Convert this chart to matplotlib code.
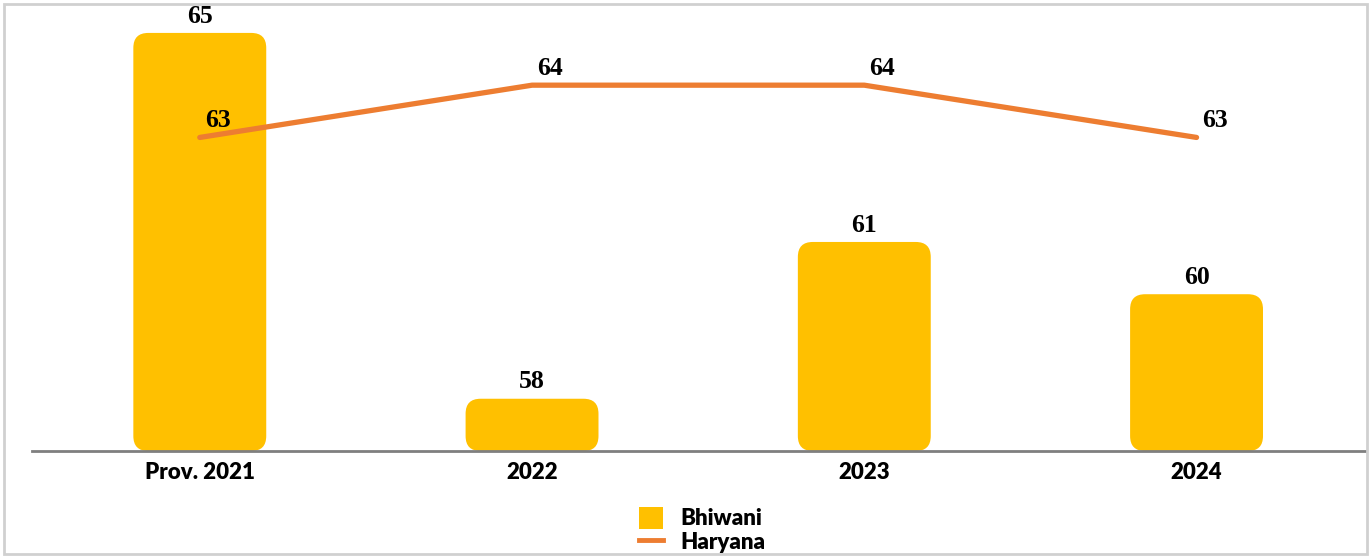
import matplotlib.pyplot as plt
from matplotlib.patches import FancyBboxPatch, Rectangle
from matplotlib.lines import Line2D
from matplotlib.patches import Patch

categories = ['Prov. 2021', '2022', '2023', '2024']
bhiwani = [65, 58, 61, 60]
haryana = [63, 64, 64, 63]

bar_color = '#FFC000'
line_color = '#ED7D31'

W, H = 1372, 557
fig = plt.figure(figsize=(W / 100, H / 100), dpi=100)

# axes: x 32..1366 px, baseline at y=451 px, top at y=0
ax = fig.add_axes([32 / W, (H - 451) / H, (1366 - 32) / W, 451 / H])
ax.set_xlim(-0.505, 3.51)
ax.set_ylim(57, 65.63)

x = list(range(len(categories)))
bars = ax.bar(x, bhiwani, width=0.40, color='none')
# swap the plain bars for rounded ones, same data coords
for b in bars:
    x0, w = b.get_x(), b.get_width()
    y0, y1 = ax.get_ylim()[0], b.get_height()
    b.set_visible(False)
    pad_x = 0.045
    pad_y = pad_x * (8.63 / 451) / (4.015 / 1334)
    box = FancyBboxPatch((x0 + pad_x, y0 + pad_y), w - 2 * pad_x, y1 - y0 - 2 * pad_y,
                         boxstyle='round,pad=0', mutation_scale=1,
                         facecolor=bar_color, edgecolor='none', zorder=2)
    box.set_boxstyle('round', pad=pad_x, rounding_size=pad_x)
    box.set_mutation_aspect(pad_y / pad_x)
    ax.add_patch(box)

ax.plot(x, haryana, color=line_color, lw=3.8, solid_capstyle='round', zorder=3)

for xi, v in zip(x, bhiwani):
    ax.annotate(str(v), (xi, v), xytext=(0, 7.5), textcoords='offset points',
                ha='center', va='baseline', fontsize=18.5, fontweight='bold',
                family='Liberation Serif', color='black', zorder=4,
                annotation_clip=False)
for xi, v in zip(x, haryana):
    ax.annotate(str(v), (xi, v), xytext=(13, 7.5), textcoords='offset points',
                ha='center', va='baseline', fontsize=18.5, fontweight='bold',
                family='Liberation Serif', color='black', zorder=4)

for s in ['top', 'right', 'left']:
    ax.spines[s].set_visible(False)
ax.spines['bottom'].set_color('#7F7F7F')
ax.spines['bottom'].set_linewidth(2)
ax.set_yticks([])
ax.set_xticks(x)
ax.set_xticklabels(categories, fontsize=16, fontweight='heavy', family='Lato')
ax.tick_params(axis='x', length=0, pad=8)

handles = [Patch(facecolor=bar_color, edgecolor='none', label='Bhiwani'),
           Line2D([0], [0], color=line_color, lw=3.5, label='Haryana')]
fig.legend(handles=handles, loc='center', bbox_to_anchor=(702 / W, 1 - 530 / H),
           frameon=False, prop={'family': 'Lato', 'weight': 'heavy', 'size': 16},
           handlelength=1.1, handleheight=1.2, handletextpad=0.75, labelspacing=0.05)

fig.patches.append(Rectangle((4 / W, 1 - 554 / H), (1367 - 4) / W, (554 - 4) / H,
                             transform=fig.transFigure, fill=False,
                             edgecolor='#D0D0D0', lw=2))

fig.savefig('out.png', dpi=100)
